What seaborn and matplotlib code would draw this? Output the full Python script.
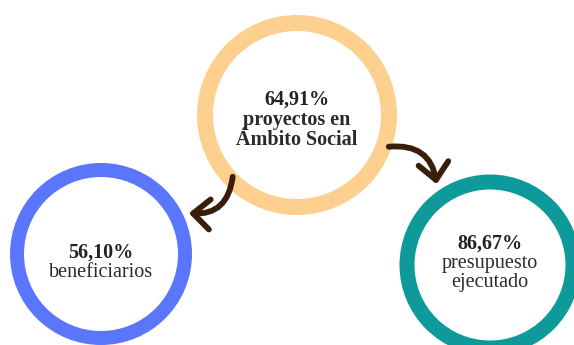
import matplotlib
matplotlib.use("Agg")
import matplotlib.pyplot as plt
from matplotlib.patches import Circle, FancyArrowPatch
import seaborn as sns

# ── data ──────────────────────────────────────────────
values = ["64,91%", "56,10%", "86,67%"]
labels = ["proyectos en\nÁmbito Social", "beneficiarios", "presupuesto\nejecutado"]
label_bold = [True, False, False]
colors = ["#FED08F", "#5A76FC", "#0E9A9B"]

# layout (pixel space, y down)
cx = [297, 101, 490]
cy = [115, 254, 265]
radius = [92, 84, 83]
ring_w = [16, 14, 15]
text_y = [100, 253, 244]

arrows = [((233, 174), (186, 213), -0.5),
          ((386, 147), (437, 187), -0.5)]

sns.set_theme(style="white")
plt.rcParams["font.family"] = ["Liberation Serif", "DejaVu Serif"]

fig, ax = plt.subplots(figsize=(5.74, 3.45), dpi=100)
fig.subplots_adjust(0, 0, 1, 1)
ax.set_xlim(0, 574)
ax.set_ylim(345, 0)
ax.set_aspect("equal")
ax.axis("off")

# rings
for x, y, r, w, c in zip(cx, cy, radius, ring_w, colors):
    ax.add_patch(Circle((x, y), r + w / 2, facecolor=c, edgecolor="none", zorder=1))
    ax.add_patch(Circle((x, y), r - w / 2, facecolor="white", edgecolor="none", zorder=2))

# curved arrows
for (p0, p1, rad) in arrows:
    ax.add_patch(FancyArrowPatch(p0, p1, connectionstyle=f"arc3,rad={rad}",
                                 arrowstyle="->,head_length=0.5,head_width=0.45",
                                 mutation_scale=24, color="#3A1E0C", lw=4.2,
                                 capstyle="round", joinstyle="round", zorder=3))

# texts
for x, ty, v, lab, b in zip(cx, text_y, values, labels, label_bold):
    ax.text(x, ty, v, ha="center", va="center", fontsize=14.5,
            fontweight="bold", color="#222222", zorder=4)
    ax.text(x, ty + 10, lab, ha="center", va="top", fontsize=14.5,
            fontweight="bold" if b else "normal", color="#2a2a2a",
            linespacing=1.0, zorder=4)

fig.savefig("out.png", dpi=100, facecolor="white")
